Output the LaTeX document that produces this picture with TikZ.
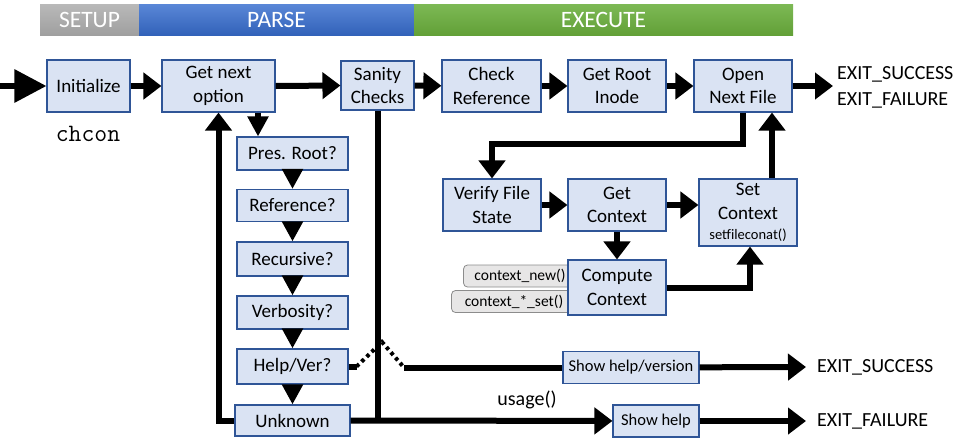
\documentclass[tikz,border=0pt]{standalone}
\usepackage{fontspec}
\setmainfont{Carlito}
\usetikzlibrary{arrows.meta,positioning,calc}
\definecolor{boxfill}{HTML}{DAE3F3}
\definecolor{boxline}{HTML}{2F5597}
\definecolor{tagfill}{HTML}{E7E6E6}
\definecolor{tagline}{HTML}{8C8C8C}
\tikzset{box/.style={rectangle,draw=boxline,fill=boxfill,line width=1.1pt,align=center,
  inner sep=1pt,font=\fontsize{19}{23.5}\selectfont},
tag/.style={rectangle,rounded corners=4pt,draw=tagline,fill=tagfill,line width=0.8pt,
  minimum height=22pt,inner sep=0pt,font=\fontsize{15.5}{17}\selectfont},
band/.style={rectangle,minimum height=31pt,inner sep=0pt,text=white,
  font=\fontsize{23.5}{26}\selectfont},
lbl/.style={inner sep=0pt,font=\fontsize{20}{23}\selectfont},
ln/.style={line width=6pt},
arr/.style={ln,-{Triangle[length=18pt,width=26pt]}},
tri/.style={ln,-{Triangle[length=20pt,width=20pt]}}}

\begin{document}
\begin{tikzpicture}[x=1pt,y=-1pt]
  \useasboundingbox (0,0) rectangle (960,440);
  \node[band,minimum width=99pt,top color=gray!55,bottom color=gray!75] (setup) at (89.5,19.5) {SETUP};
  \node[band,minimum width=275pt,top color={rgb,255:red,90;green,135;blue,215},bottom color={rgb,255:red,50;green,98;blue,185}] (parse) at (276.5,19.5) {PARSE};
  \node[band,minimum width=379pt,top color={rgb,255:red,125;green,185;blue,85},bottom color={rgb,255:red,98;green,160;blue,55}] (exec) at (603.5,19.5) {EXECUTE};

  \node[box,minimum width=83pt,minimum height=52pt] (init) at (88.5,86) {Initialize};
  \node[box,minimum width=113pt,minimum height=52pt] (gno) at (218.5,86) {Get next\\option};
  \node[box,minimum width=73pt,minimum height=49pt] (san) at (377.5,85.5) {Sanity\\Checks};
  \node[box,minimum width=99pt,minimum height=52pt] (chk) at (491.5,86) {Check\\Reference};
  \node[box,minimum width=98pt,minimum height=52pt] (root) at (617,86) {Get Root\\Inode};
  \node[box,minimum width=98pt,minimum height=52pt] (open) at (743,86) {Open\\Next File};
  \node[font=\ttfamily\fontsize{25}{28}\selectfont] (cmd) at (88,134) {chcon};
  \node[lbl,anchor=west] (ok1) at (837,74) {EXIT\_SUCCESS};
  \node[lbl,anchor=west] (fail1) at (837,100) {EXIT\_FAILURE};
  \coordinate (start) at (0,86);
  \coordinate (out) at (833,86);

  \node[box,minimum width=111pt,minimum height=33pt] (pres) at (292.5,153.5) {Pres. Root?};
  \node[box,minimum width=111pt,minimum height=32pt] (refq) at (292.5,205.5) {Reference?};
  \node[box,minimum width=111pt,minimum height=34pt] (recq) at (292.5,259) {Recursive?};
  \node[box,minimum width=111pt,minimum height=33pt] (verb) at (292.5,312.5) {Verbosity?};
  \node[box,minimum width=111pt,minimum height=35pt] (help) at (292.5,366.5) {Help/Ver?};
  \node[box,minimum width=115pt,minimum height=31pt] (unk) at (292.5,420.5) {Unknown};

  \node[box,minimum width=98pt,minimum height=52pt] (ver) at (492,205) {Verify File\\State};
  \node[box,minimum width=98pt,minimum height=52pt] (gctx) at (617,205) {Get\\Context};
  \node[box,minimum width=98pt,minimum height=67pt] (sctx) at (748,212.5) {Set\\Context\\[-3pt]{\fontsize{14.5}{16}\selectfont setfileconat()}};
  \node[tag,minimum width=113pt] (cnew) at (520,276) {context\_new()};
  \node[tag,minimum width=125pt] (cset) at (514,301.5) {context\_*\_set()};
  \node[box,minimum width=98pt,minimum height=55pt] (cctx) at (617,287.5) {Compute\\Context};

  \node[box,minimum width=136pt,minimum height=32pt,font=\fontsize{16.5}{20}\selectfont] (shv) at (631,367.5) {Show help/version};
  \node[box,minimum width=86pt,minimum height=32pt,font=\fontsize{16.5}{20}\selectfont] (shp) at (656,421) {Show help};
  \node[lbl,anchor=west] (ok2) at (817,367) {EXIT\_SUCCESS};
  \node[lbl,anchor=west] (fail2) at (817,421) {EXIT\_FAILURE};
  \node[lbl] (use) at (527,400) {usage()};
  \coordinate (jmp) at (382,342);
  \coordinate (lnd) at (404,367.5);

  \draw[ln,-{Triangle[length=32pt,width=32pt]}] (start) -- (init);
  \draw[arr] (init) -- (gno);
  \draw[arr] (gno.east) -- (san.west);
  \draw[arr] (san) -- (chk);
  \draw[arr] (chk) -- (root);
  \draw[arr] (root) -- (open);
  \draw[arr] (open) -- (out);
  \draw[tri] ([xshift=39.5pt]gno.south) -- ([xshift=39.5pt]gno.south |- pres.north);
  \foreach \a/\b in {pres/refq,refq/recq,recq/verb,verb/help,help/unk}
    \draw[tri] (\a) -- (\b);
  \draw[arr] (unk.west) -| (gno.south);
  \draw[ln] (san.south) -- (san.south |- unk.east);
  \draw[arr] (unk.east) -- (shp);
  \draw[ln] (help.east) -- ++(8,0);
  \draw[line width=4pt,dash pattern=on 3.5pt off 3.5pt] ([xshift=8pt]help.east) -- (jmp) -- (lnd);
  \draw[ln] (lnd) -- (shv.west);
  \draw[arr] (shv) -- ([xshift=-11pt]ok2.west);
  \draw[arr] (shp) -- ([xshift=-11pt]fail2.west);

  \draw[arr] (open.south) -- ++(0,31) -| (ver);
  \draw[arr] (ver) -- (gctx);
  \draw[arr] (gctx) -- (gctx -| sctx.west);
  \draw[arr] (gctx) -- (cctx);
  \draw[arr] (cctx.east) -| ([xshift=2pt]sctx.south);
  \draw[arr] ([xshift=24pt]sctx.north) -- ([xshift=24pt]sctx.north |- open.south);
\end{tikzpicture}
\end{document}
